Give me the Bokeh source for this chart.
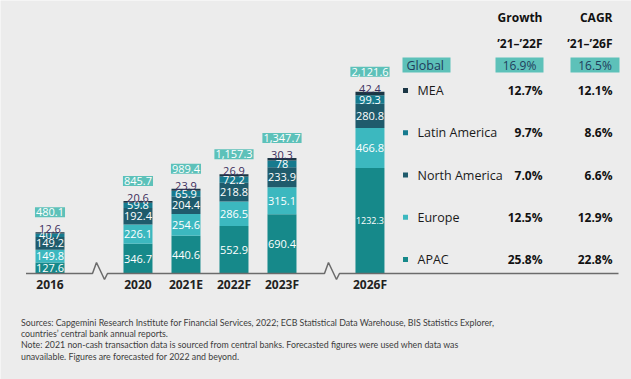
import numpy as np
from bokeh.plotting import figure
from bokeh.models import Range1d, ColumnDataSource
from bokeh.core.properties import value
from bokeh.embed import file_html
from bokeh.resources import INLINE

# ---------------- data ----------------
years = ["2016", "2020", "2021E", "2022F", "2023F", "2026F"]
apac = [127.6, 346.7, 440.6, 552.9, 690.4, 1232.3]
europe = [149.8, 226.1, 254.6, 286.5, 315.1, 466.8]
north_america = [149.2, 192.4, 204.4, 218.8, 233.9, 280.8]
latin_america = [40.7, 59.8, 65.9, 72.2, 78.0, 99.3]
mea = [12.6, 20.6, 23.9, 26.9, 30.3, 42.4]
total_labels = ["480.1", "845.7", "989.4", "1,157.3", "1,347.7", "2,121.6"]
totals = [480.1, 845.7, 989.4, 1157.3, 1347.7, 2121.6]
break_after = ["2016", "2023F"]

table_regions = ["MEA", "Latin America", "North America", "Europe", "APAC"]
growth_21_22 = ["12.7%", "9.7%", "7.0%", "12.5%", "25.8%"]
cagr_21_26 = ["12.1%", "8.6%", "6.6%", "12.9%", "22.8%"]
global_growth = "16.9%"
global_cagr = "16.5%"

notes = [
    "Sources: Capgemini Research Institute for Financial Services, 2022; ECB Statistical Data Warehouse, BIS Statistics Explorer,",
    "countries\u2019 central bank annual reports.",
    "Note: 2021 non-cash transaction data is sourced  from central banks. Forecasted figures were used when data was",
    "unavailable. Figures are forecasted for 2022 and beyond.",
]

# ---------------- styles / layout ----------------
W, H = 631, 379
BG = "#ececec"
COL = {"APAC": "#16898a", "Europe": "#3cb8bf", "North America": "#1f5b6c",
       "Latin America": "#167a8e", "MEA": "#1b3645"}
TOTAL_BOX = "#5dc1b9"
NAVY = "#1f3d5c"
MEA_LABEL = "#3b2d5c"
FONT = value("Open Sans")
NOTE_FONT = value("Lato")

BASE_PX = 273.0
PX_PER_UNIT = 0.0857
SLOT_PX = 48.0
FIRST_X_PX = 49.5
GAP = 0.833
BAR_W = 0.604

xs = []
cur = 0.0
for yr in years:
    xs.append(cur)
    cur += 1 + (GAP if yr in break_after else 0)
xs = np.array(xs)

p = figure(width=W, height=H,
           x_range=Range1d(-FIRST_X_PX / SLOT_PX, (W - FIRST_X_PX) / SLOT_PX),
           y_range=Range1d(-(H - BASE_PX) / PX_PER_UNIT, BASE_PX / PX_PER_UNIT),
           x_axis_type=None, y_axis_type=None,
           output_backend="svg", toolbar_location=None, min_border=0,
           background_fill_color=BG, border_fill_color=BG, outline_line_color=None)
p.grid.visible = False
p.extra_x_ranges = {"px": Range1d(0, W)}
p.extra_y_ranges = {"px": Range1d(H, 0)}

series = {"APAC": apac, "Europe": europe, "North America": north_america,
          "Latin America": latin_america, "MEA": mea}
keys = ["APAC", "Europe", "North America", "Latin America", "MEA"]
src = ColumnDataSource(dict(x=xs, **{k: series[k] for k in keys}))
p.vbar_stack(keys, x="x", width=BAR_W, source=src,
             color=[COL[k] for k in keys], line_width=0)

# segment labels
lx, ly, lt, ls = [], [], [], []
bottom = np.zeros(len(years))
for k in keys:
    vals = np.array(series[k])
    if k != "MEA":
        for i, v in enumerate(vals):
            txt = f"{v:g}"
            lx.append(xs[i]); ly.append(bottom[i] + v / 2); lt.append(txt)
            ls.append("9px" if len(txt) > 5 else "11px")
    bottom = bottom + vals
p.text(x=lx, y=ly, text=lt, text_font=FONT, text_font_size=ls,
       text_color="white", text_align="center", text_baseline="middle")

# MEA labels above bar tops
p.text(x=xs, y=bottom, text=[f"{v:g}" for v in mea], text_font=FONT,
       text_font_size="11px", text_color=MEA_LABEL, text_align="center",
       text_baseline="bottom", y_offset=1)

# total labels in boxes
p.text(x=xs, y=totals, text=total_labels, text_font=FONT, text_font_size="11px",
       text_color="white", text_align="center", text_baseline="middle",
       y_offset=-20, background_fill_color=TOTAL_BOX, padding=1)

# year labels
p.text(x=xs, y=[0] * len(years), text=years, text_font=FONT, text_font_size="12px",
       text_font_style="bold", text_color="#222222", text_align="center",
       text_baseline="middle", y_offset=11)

# baseline with axis breaks
u = 1.0 / PX_PER_UNIT
sx = 1.0 / SLOT_PX
line_x = [xs[0] - 0.5]
line_y = [0.0]
for yr in break_after:
    i = years.index(yr)
    c = (xs[i] + xs[i + 1]) / 2 + 6 * sx
    for dx, dy in [(-7.5, 0), (-3.5, 11), (4.5, -6), (7.5, 0)]:
        line_x.append(c + dx * sx)
        line_y.append(dy * u)
line_x.append((618 - FIRST_X_PX) / SLOT_PX)
line_y.append(0.0)
p.line(line_x, line_y, line_color="#6b6b6b", line_width=1.5)

# ---------------- table (pixel coordinates) ----------------
GROW_R, CAGR_R = 542, 612
hdr = dict(text_font=FONT, text_font_size="12px", text_font_style="bold",
           text_color="#111111", text_align="right", text_baseline="middle",
           x_range_name="px", y_range_name="px")
p.text(x=[GROW_R, CAGR_R], y=[17, 17], text=["Growth", "CAGR"], **hdr)
p.text(x=[GROW_R, CAGR_R], y=[43, 43], text=["\u201921\u2013\u201922F", "\u201921\u2013\u201926F"], **hdr)

p.quad(left=[402, 495, 570], right=[450, 543, 619], top=[57, 57, 57], bottom=[72, 72, 72],
       color=TOTAL_BOX, line_width=0, x_range_name="px", y_range_name="px")
p.text(x=[406], y=[64.5], text=["Global"], text_font=FONT, text_font_size="12.5px",
       text_color=NAVY, text_align="left", text_baseline="middle",
       x_range_name="px", y_range_name="px")
p.text(x=[519, 594.5], y=[64.5, 64.5], text=[global_growth, global_cagr], text_font=FONT,
       text_font_size="12px", text_color=NAVY, text_align="center", text_baseline="middle",
       x_range_name="px", y_range_name="px")

row_y = [90 + i * 42.25 for i in range(len(table_regions))]
p.scatter(x=[405] * len(row_y), y=row_y, marker="square", size=5,
          color=[COL[r] for r in table_regions], line_width=0,
          x_range_name="px", y_range_name="px")
p.text(x=[417] * len(row_y), y=row_y, text=table_regions, text_font=FONT,
       text_font_size="12.5px", text_color="#1a1a1a", text_align="left",
       text_baseline="middle", x_range_name="px", y_range_name="px")
val = dict(text_font=FONT, text_font_size="12px", text_font_style="bold",
           text_color="#111111", text_align="right", text_baseline="middle",
           x_range_name="px", y_range_name="px")
p.text(x=[GROW_R] * len(row_y), y=row_y, text=growth_21_22, **val)
p.text(x=[CAGR_R] * len(row_y), y=row_y, text=cagr_21_26, **val)

# ---------------- notes ----------------
p.text(x=[20.5] * len(notes), y=[321.7, 332.9, 344.3, 355.7], text=notes,
       text_font=NOTE_FONT, text_font_size="8.8px", text_color="#3c3c3c",
       text_align="left", text_baseline="middle", x_range_name="px", y_range_name="px")

open("out.html", "w").write(file_html(p, INLINE))
